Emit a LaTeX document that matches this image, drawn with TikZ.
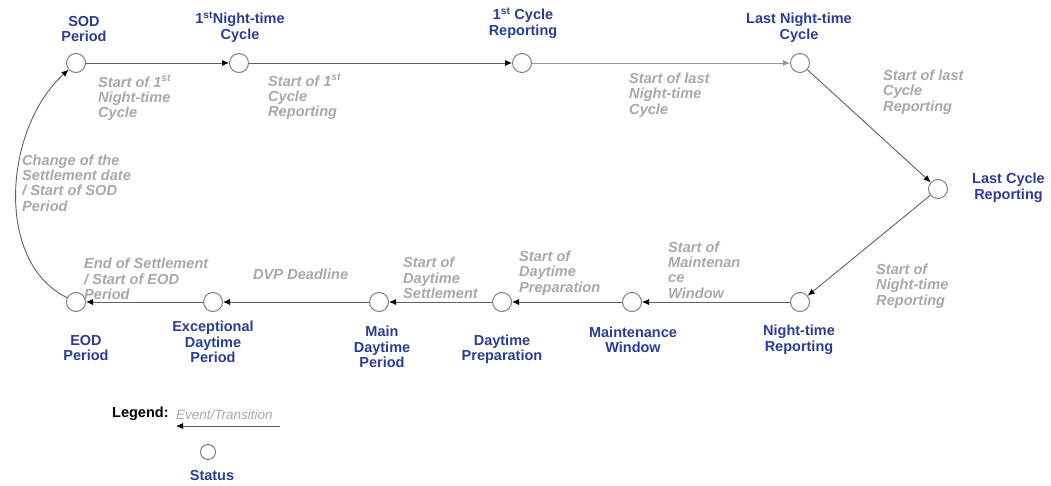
\documentclass[tikz,border=0pt]{standalone}
\usepackage{fontspec}
\setmainfont{Liberation Sans}
\usepackage{xcolor}
\usepackage{tikz}
\usetikzlibrary{arrows.meta}

\definecolor{statusblue}{RGB}{42,62,145}
\definecolor{eventgray}{RGB}{168,168,168}
\definecolor{linegray}{RGB}{95,95,95}
\definecolor{lightline}{RGB}{150,150,150}

\begin{document}
\begin{tikzpicture}[x=1pt,y=-1pt,
		status/.style={circle,draw=linegray!80,line width=1pt,fill=white,minimum size=19pt,inner sep=0pt},
		statuslbl/.style={text=statusblue,font=\bfseries\fontsize{14.5}{15.5}\selectfont,align=center,inner sep=0pt},
		eventlbl/.style={text=eventgray,font=\bfseries\itshape\fontsize{14.6}{15.3}\selectfont,align=left,inner sep=0pt,anchor=west},
		flow/.style={draw=linegray,line width=0.9pt,-{Latex[length=7pt,width=6pt,color=black]}}]
		\useasboundingbox (0,0) rectangle (1051,486);
		
		\node[status] (sod) at (76,63) {};
		\node[status] (ntc1) at (239,63) {};
		\node[status] (rep1) at (522,63) {};
		\node[status] (ntclast) at (800,63) {};
		\node[status] (replast) at (938,189) {};
		\node[status] (ntrep) at (800,302) {};
		\node[status] (maint) at (632,302) {};
		\node[status] (dprep) at (502,302) {};
		\node[status] (mainday) at (379,302) {};
		\node[status] (excday) at (213,302) {};
		\node[status] (eod) at (76,302) {};
		
		\node[statuslbl] (sodlbl) at (84,29) {SOD\\Period};
		\node[statuslbl] (ntc1lbl) at (240,27) {1\textsuperscript{st}Night-time\\Cycle};
		\node[statuslbl] (rep1lbl) at (523,23) {1\textsuperscript{st} Cycle\\Reporting};
		\node[statuslbl] (ntclastlbl) at (799,28) {Last Night-time\\Cycle};
		\node[statuslbl,anchor=west] (replastlbl) at (972,188) {Last Cycle\\Reporting};
		\node[statuslbl] (ntreplbl) at (799,340) {Night-time\\Reporting};
		\node[statuslbl] (maintlbl) at (633,340) {Maintenance\\Window};
		\node[statuslbl] (dpreplbl) at (502,349) {Daytime\\Preparation};
		\node[statuslbl] (maindaylbl) at (382,347) {Main\\Daytime\\Period};
		\node[statuslbl] (excdaylbl) at (213,342) {Exceptional\\Daytime\\Period};
		\node[statuslbl] (eodlbl) at (86,348) {EOD\\Period};
		
		\node[eventlbl] (ev1) at (98,98) {Start of 1\textsuperscript{st}\\Night-time\\Cycle};
		\node[eventlbl] (ev2) at (268,97) {Start of 1\textsuperscript{st}\\Cycle\\Reporting};
		\node[eventlbl] (ev3) at (629,95) {Start of last\\Night-time\\Cycle};
		\node[eventlbl] (ev4) at (883,92) {Start of last\\Cycle\\Reporting};
		\node[eventlbl] (ev5) at (876,286) {Start of\\Night-time\\Reporting};
		\node[eventlbl] (ev6) at (668,270) {Start of\\Maintenan\\ce\\Window};
		\node[eventlbl] (ev7) at (519,273) {Start of\\Daytime\\Preparation};
		\node[eventlbl] (ev8) at (403,278) {Start of\\Daytime\\Settlement};
		\node[eventlbl] (ev9) at (253,274) {DVP Deadline};
		\node[eventlbl] (ev10) at (84,279) {End of Settlement\\/ Start of EOD\\Period};
		\node[eventlbl] (ev11) at (22,183) {Change of the\\Settlement date\\/ Start of SOD\\Period};
		
		\draw[flow] (sod) -- (ntc1);
		\draw[flow] (ntc1) -- (rep1);
		\draw[flow,draw=lightline,-{Latex[length=7pt,width=6pt,color=lightline]}] (rep1) -- (ntclast);
		\draw[flow] (ntclast) -- (replast);
		\draw[flow] (replast) -- (ntrep);
		\foreach \a/\b in {ntrep/maint,maint/dprep,dprep/mainday,mainday/excday,excday/eod}{
			\draw[flow] (\a) -- (\b);
		}
		\draw[flow] (eod) .. controls (-6,262) and (4,128) .. (sod);
		
		\node[anchor=west,inner sep=0pt,font=\bfseries\fontsize{14.5}{15}\selectfont] (legend) at (112,414) {Legend:};
		\node[anchor=west,inner sep=0pt,text=eventgray,font=\itshape\fontsize{13.5}{14}\selectfont] (legendev) at (176,415) {Event/Transition};
		\coordinate (legstart) at (280,426);
		\coordinate (legend) at (176,426);
		\draw[flow] (legstart) -- (legend);
		\node[status,minimum size=15pt] (legstatus) at (208,452) {};
		\node[statuslbl] (legstatuslbl) at (212,476) {Status};
	\end{tikzpicture}
\end{document}
